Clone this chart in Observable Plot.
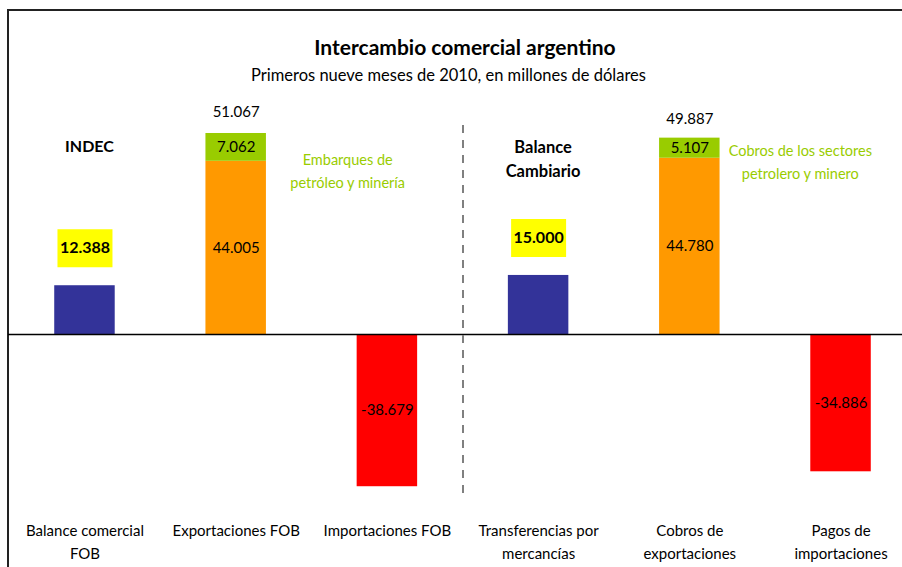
<!DOCTYPE html>
<html>
<head>
<meta charset="utf-8">
<script src="https://cdn.jsdelivr.net/npm/d3@7"></script>
<script src="https://cdn.jsdelivr.net/npm/@observablehq/plot@0.6"></script>
<style>
  html, body { margin: 0; padding: 0; background: #fff; }
  #wrap { position: relative; width: 902px; height: 567px; overflow: hidden; font-family: Lato, "DejaVu Sans", sans-serif; }
  #border { position: absolute; left: 7px; top: 9px; right: -5px; bottom: -5px; border-left: 2px solid #222; border-top: 2px solid #222; }
  #title { position: absolute; top: 35px; left: 0; width: 930px; text-align: center; font-size: 21px; font-weight: bold; line-height: 24px; color: #000; }
  #subtitle { position: absolute; top: 64px; left: 0; width: 897px; text-align: center; font-size: 16.5px; line-height: 22px; color: #000; }
  #chart { position: absolute; left: 0; top: 95px; }
</style>
</head>
<body>
<div id="wrap">
  <div id="border"></div>
  <div id="title">Intercambio comercial argentino</div>
  <div id="subtitle">Primeros nueve meses de 2010, en millones de dólares</div>
  <div id="chart"></div>
</div>
<script>
const categories = ["Balance comercial FOB", "Exportaciones FOB", "Importaciones FOB", "Transferencias por mercancías", "Cobros de exportaciones", "Pagos de importaciones"];
const tickLabels = ["Balance comercial\nFOB", "Exportaciones FOB", "Importaciones FOB", "Transferencias por\nmercancías", "Cobros de\nexportaciones", "Pagos de\nimportaciones"];
const baseValues = [12388, 44005, -38679, 15000, 44780, -34886];
const extraValues = [0, 7062, 0, 0, 5107, 0];
const totalValues = [null, 51067, null, null, 49887, null];
const baseType = ["balance", "exports", "imports", "balance", "exports", "imports"];
const groupLabels = ["INDEC", "Balance\nCambiario"];
const annotations = ["Embarques de\npetróleo y minería", "Cobros de los sectores\npetrolero y minero"];

const fmt = d3.formatLocale({decimal: ",", thousands: ".", grouping: [3], currency: ["$", ""], minus: "-"}).format(",d");

const segments = [];
categories.forEach((c, i) => {
  segments.push({cat: c, part: baseType[i], value: baseValues[i]});
  if (extraValues[i]) segments.push({cat: c, part: "extra", value: extraValues[i]});
});

const font = "Lato, 'DejaVu Sans', sans-serif";
const greenText = "#99cc00";

const chart = Plot.plot({
  width: 902,
  height: 472,
  marginLeft: 8,
  marginRight: 0,
  marginTop: 0,
  marginBottom: 57,
  style: {fontFamily: font, background: "transparent", overflow: "visible"},
  x: {domain: categories, range: [-36.5, 961.5], padding: 0.6, round: false, axis: null},
  y: {domain: [-44720, 60720], axis: null},
  color: {domain: ["balance", "exports", "extra", "imports"], range: ["#333399", "#ff9900", "#99cc00", "#ff0000"]},
  marks: [
    Plot.barY(segments, Plot.stackY({x: "cat", y: "value", fill: "part"})),
    Plot.ruleY([0], {stroke: "#000", strokeWidth: 1.5}),
    Plot.ruleX([categories[3]], {x: d => d, dx: -75.6, insetTop: 30, insetBottom: 10, stroke: "#808080", strokeWidth: 2, strokeDasharray: "8,7"}),
    Plot.textY(segments, Plot.stackY({
      filter: d => d.part !== "balance",
      x: "cat", y: "value", text: d => fmt(d.value),
      fontSize: 15, fill: "#000"
    })),
    // yellow value boxes above the balance bars
    Plot.dot([0, 3], {
      x: i => categories[i], y: i => baseValues[i], dy: -37.5,
      symbol: {draw(ctx) { ctx.rect(-27.5, -19, 55, 38); }},
      r: 10, fill: "#ffff00", stroke: "none"
    }),
    Plot.text([0, 3], {
      x: i => categories[i], y: i => baseValues[i], dy: -37.5,
      text: i => fmt(baseValues[i]), fontSize: 16, fontWeight: "bold", fill: "#000"
    }),
    // totals above stacked bars
    Plot.text([1], {x: i => categories[i], y: i => totalValues[i], dy: -21, text: i => fmt(totalValues[i]), fontSize: 15, fill: "#000"}),
    Plot.text([4], {x: i => categories[i], y: i => totalValues[i], dy: -19, text: i => fmt(totalValues[i]), fontSize: 15, fill: "#000"}),
    // green annotations
    Plot.text([1], {x: i => categories[i], y: i => totalValues[i], dx: 111.5, dy: 35.5, text: () => annotations[0], fontSize: 14.5, lineHeight: 1.6, fill: greenText}),
    Plot.text([4], {x: i => categories[i], y: i => totalValues[i], dx: 110.5, dy: 22, text: () => annotations[1], fontSize: 14.5, lineHeight: 1.6, fill: greenText}),
    // group labels
    Plot.text([groupLabels[0]], {x: () => categories[0], frameAnchor: "top", lineAnchor: "middle", dx: 4.5, dy: 51, text: d => d, fontSize: 16, fontWeight: "bold", fill: "#000"}),
    Plot.text([groupLabels[1]], {x: () => categories[3], frameAnchor: "top", lineAnchor: "middle", dx: 4.5, dy: 62, text: d => d, fontSize: 16.5, fontWeight: "bold", lineHeight: 1.45, fill: "#000"}),
    // category axis
    Plot.axisX({
      tickSize: 0, tickPadding: 9, label: null,
      tickFormat: d => tickLabels[categories.indexOf(d)],
      fontSize: 15, lineHeight: 1.53, fill: "#000"
    })
  ]
});
document.getElementById("chart").appendChild(chart);
</script>
</body>
</html>
